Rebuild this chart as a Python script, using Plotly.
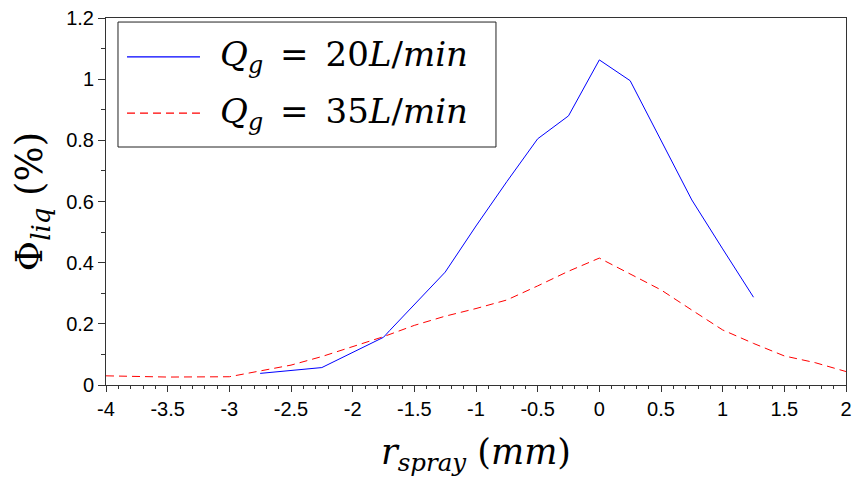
import plotly.graph_objects as go

# Data
x_20 = [-2.75, -2.25, -1.75, -1.70, -1.25, -1.0, -0.75, -0.5, -0.25, 0.0, 0.25, 0.5, 0.75, 1.0, 1.25]
y_20 = [0.038, 0.057, 0.156, 0.178, 0.369, 0.52, 0.665, 0.805, 0.880, 1.063, 0.995, 0.80, 0.605, 0.445, 0.287]

x_35 = [-4.0, -3.5, -3.0, -2.75, -2.5, -2.25, -2.0, -1.75, -1.5, -1.25, -1.0, -0.75, -0.5, -0.25, 0.0,
        0.25, 0.5, 0.75, 1.0, 1.25, 1.5, 1.75, 2.0]
y_35 = [0.030, 0.026, 0.027, 0.047, 0.065, 0.093, 0.125, 0.158, 0.195, 0.225, 0.250, 0.278, 0.324, 0.372, 0.415,
        0.363, 0.311, 0.245, 0.180, 0.136, 0.095, 0.073, 0.044]

x_ticks = [-4, -3.5, -3, -2.5, -2, -1.5, -1, -0.5, 0, 0.5, 1, 1.5, 2]
x_tick_text = ["-4", "-3.5", "-3", "-2.5", "-2", "-1.5", "-1", "-0.5", "0", "0.5", "1", "1.5", "2"]
y_ticks = [0, 0.2, 0.4, 0.6, 0.8, 1.0, 1.2]
y_tick_text = ["0", "0.2", "0.4", "0.6", "0.8", "1", "1.2"]

names = ["<i>Q</i><sub><i>g</i></sub>\u2002=\u200220<i>L</i>/<i>min</i>",
         "<i>Q</i><sub><i>g</i></sub>\u2002=\u200235<i>L</i>/<i>min</i>"]
colors = ["#0000ff", "#ff0000"]
dashes = ["solid", "8px,5px"]

fig = go.Figure()
fig.add_trace(go.Scatter(x=x_20, y=y_20, mode="lines", name=names[0],
                         line=dict(color=colors[0], width=1)))
fig.add_trace(go.Scatter(x=x_35, y=y_35, mode="lines", name=names[1],
                         line=dict(color=colors[1], width=1, dash=dashes[1])))

serif = "DejaVu Serif"

# Legend drawn in paper coordinates (box, line samples, labels)
fig.add_shape(type="rect", xref="paper", yref="paper", x0=0.0162, x1=0.527, y0=0.6485, y1=0.989,
              line=dict(color="#222222", width=1), fillcolor="white", layer="above")
leg_y = [0.894, 0.741]
for i in range(2):
    fig.add_shape(type="line", xref="paper", yref="paper", x0=0.0284, x1=0.127, y0=leg_y[i], y1=leg_y[i],
                  line=dict(color=colors[i], width=1.3, dash=dashes[i]), layer="above")
    fig.add_annotation(xref="paper", yref="paper", x=0.152, y=leg_y[i], xanchor="left", yanchor="middle",
                       text=names[i], showarrow=False,
                       font=dict(family=serif, size=34, color="black"))

fig.update_layout(
    width=855, height=480,
    paper_bgcolor="white", plot_bgcolor="white",
    margin=dict(l=106, r=9, t=18, b=95),
    showlegend=False,
    xaxis=dict(range=[-4, 2], tickvals=x_ticks, ticktext=x_tick_text, automargin=False,
               ticklabeloverflow="allow",
               showgrid=False, zeroline=False, showline=True, linecolor="#333333", linewidth=1,
               mirror=True, ticks="outside", ticklen=6, tickcolor="#333333",
               minor=dict(dtick=0.1, ticks="outside", ticklen=3, tickcolor="#333333"),
               tickfont=dict(family="Liberation Sans", size=20, color="black"),
               title=dict(text="<i>r</i><sub><i>spray</i></sub> (<i>mm</i>)",
                          font=dict(family=serif, size=35, color="black"), standoff=20)),
    yaxis=dict(range=[0, 1.2], tickvals=y_ticks, ticktext=y_tick_text, automargin=False,
               ticklabeloverflow="allow",
               showgrid=False, zeroline=False, showline=True, linecolor="#333333", linewidth=1,
               mirror=True, ticks="outside", ticklen=7, tickcolor="#333333",
               minor=dict(dtick=0.1, ticks="outside", ticklen=4, tickcolor="#333333"),
               tickfont=dict(family="Liberation Sans", size=20, color="black"),
               title=dict(text="Φ<sub><i>liq</i></sub> (%)",
                          font=dict(family=serif, size=37, color="black"), standoff=12)),
)

fig.write_html("out.html", config={"displayModeBar": False},
               post_script="document.body.style.margin='0';")
